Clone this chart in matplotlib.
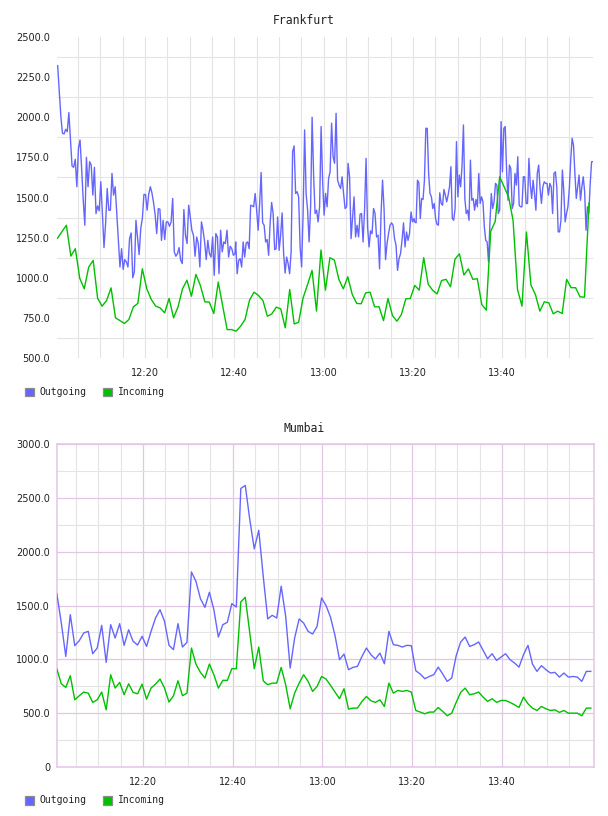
import numpy as np
import matplotlib
matplotlib.use("Agg")
import matplotlib.pyplot as plt
from matplotlib.patches import Rectangle

# ---------------- data ----------------
TIME_TICKS = ["12:20", "12:40", "13:00", "13:20", "13:40"]
SERIES_NAMES = ["Outgoing", "Incoming"]

# Frankfurt outgoing, read in three stretches (minutes after 12:00 for each stretch)
FRA_OUT_SPANS = [(0.45, 40.15), (40.30, 80.23), (80.38, 120.3)]
FRA_OUT_A = [2321, 2160, 2004, 1900, 1896, 1925, 1910, 2029, 1858, 1696, 1688, 1738, 1567,
             1806, 1858, 1681, 1483, 1327, 1750, 1567, 1723, 1702, 1515, 1688, 1400, 1448,
             1417, 1598, 1400, 1188, 1338, 1556, 1421, 1421, 1650, 1515, 1567, 1400, 1238,
             1067, 1181, 1052, 1113, 1098, 1067, 1244, 1279, 1000, 1036, 1358, 1254, 1144,
             1306, 1369, 1519, 1519, 1421, 1521, 1567, 1529, 1469, 1394, 1275, 1431, 1427,
             1233, 1358, 1238, 1348, 1348, 1321, 1348, 1494, 1161, 1134, 1150, 1188, 1109,
             1088, 1425, 1265, 1213, 1452, 1379, 1296, 1265, 1134, 1254, 1213, 1067, 1348,
             1296, 1223, 1113, 1233, 1150, 1129, 1254, 1015, 1275, 1254, 1025, 1296, 1161,
             1223, 1213, 1296, 1129, 1196, 1181, 1140, 1150]
FRA_OUT_B = [1223, 1025, 1108, 1119, 1067, 1223, 1129, 1217, 1223, 1181, 1452, 1448, 1442,
             1525, 1421, 1296, 1463, 1656, 1342, 1327, 1223, 1238, 1140, 1342, 1469, 1400,
             1175, 1181, 1379, 1171, 1265, 1404, 1150, 1029, 1129, 1088, 1025, 1161, 1786,
             1821, 1525, 1536, 1504, 1192, 1067, 1400, 1921, 1525, 1421, 1223, 1442, 2000,
             1640, 1400, 1421, 1348, 1442, 1942, 1608, 1390, 1525, 1442, 1619, 1660, 1963,
             1754, 1713, 2025, 1608, 1577, 1556, 1629, 1525, 1431, 1442, 1713, 1629, 1244,
             1379, 1504, 1254, 1327, 1254, 1396, 1400, 1223, 1421, 1744, 1317, 1192, 1292,
             1275, 1431, 1400, 1254, 1265, 1056, 1400, 1608, 1431, 1113, 1213, 1275, 1327,
             1342, 1327, 1244, 1202, 1046, 1119, 1150, 1233, 1342, 1192, 1285, 1233, 1275,
             1410, 1348, 1369]
FRA_OUT_C = [1348, 1342, 1608, 1592, 1369, 1494, 1488, 1608, 1931, 1931, 1650, 1525, 1504,
             1431, 1463, 1369, 1333, 1327, 1529, 1463, 1452, 1550, 1515, 1473, 1515, 1567,
             1692, 1369, 1358, 1431, 1848, 1504, 1640, 1567, 1702, 1952, 1494, 1400, 1421,
             1358, 1733, 1483, 1494, 1421, 1488, 1442, 1650, 1463, 1504, 1473, 1317, 1233,
             1223, 1098, 1338, 1525, 1431, 1473, 1588, 1577, 1400, 1421, 1973, 1660, 1931,
             1942, 1660, 1483, 1702, 1681, 1431, 1463, 1650, 1577, 1754, 1452, 1442, 1442,
             1629, 1629, 1463, 1463, 1744, 1577, 1494, 1608, 1525, 1421, 1650, 1702, 1556,
             1463, 1567, 1598, 1588, 1588, 1515, 1588, 1567, 1400, 1650, 1660, 1567, 1286,
             1286, 1358, 1671, 1546, 1348, 1400, 1442, 1556, 1733, 1869, 1827, 1650, 1494,
             1567, 1640, 1483, 1567, 1629, 1536, 1296, 1442, 1400, 1588, 1723, 1723]

# Frankfurt incoming, one value per minute from FRA_IN_START (minutes after 12:00)
FRA_IN_START = 0.4
FRA_IN = [1246, 1287, 1327, 1135, 1181, 996, 931, 1067, 1108, 871,
          823, 858, 937, 750, 733, 715, 740, 819, 840, 1056,
          931, 865, 823, 812, 781, 871, 750, 819, 931, 985,
          885, 1021, 952, 850, 848, 777, 973, 823, 677, 677,
          667, 698, 740, 860, 910, 890, 858, 760, 775, 817,
          806, 688, 927, 712, 723, 875, 958, 1046, 792, 1173,
          923, 1125, 1110, 990, 931, 1006, 896, 840, 838, 906,
          910, 819, 819, 733, 871, 765, 729, 771, 869, 871,
          952, 923, 1125, 960, 922, 899, 983, 990, 944, 1116,
          1149, 1017, 1055, 990, 994, 833, 798, 1290, 1350, 1629,
          1567, 1504, 1358, 927, 823, 1285, 955, 896, 792, 850,
          844, 775, 792, 777, 990, 938, 938, 881, 879, 1465]

# Mumbai, one value per minute from MUM_START (minutes after 12:00)
MUM_START = 0.8
MUM_OUT = [1610, 1337, 1027, 1415, 1127, 1173, 1245, 1260, 1052, 1105,
           1316, 972, 1322, 1198, 1331, 1130, 1275, 1167, 1133, 1214,
           1120, 1260, 1384, 1461, 1353, 1130, 1090, 1331, 1114, 1158,
           1812, 1725, 1564, 1483, 1623, 1461, 1207, 1322, 1344, 1517,
           1486, 2587, 2615, 2298, 2026, 2199, 1771, 1375, 1409, 1384,
           1679, 1400, 919, 1198, 1375, 1337, 1260, 1235, 1306, 1570,
           1499, 1390, 1220, 997, 1049, 904, 925, 935, 1027, 1105,
           1043, 1003, 1058, 959, 1260, 1136, 1130, 1114, 1130, 1127,
           894, 863, 820, 841, 857, 928, 863, 795, 826, 1034,
           1161, 1207, 1120, 1136, 1161, 1083, 1006, 1052, 990, 1021,
           1052, 997, 966, 928, 1043, 1130, 956, 888, 941, 904,
           873, 879, 835, 873, 835, 841, 835, 795, 888, 888]
MUM_IN = [910, 773, 739, 848, 624, 662, 696, 686, 600, 624,
          696, 531, 857, 733, 786, 671, 773, 693, 680, 770,
          630, 733, 770, 817, 733, 603, 662, 801, 662, 686,
          1105, 956, 879, 826, 956, 857, 733, 805, 805, 913,
          913, 1533, 1576, 1245, 913, 1114, 801, 764, 779, 779,
          925, 764, 541, 686, 779, 857, 795, 702, 748, 841,
          817, 758, 696, 634, 727, 538, 547, 547, 609, 655,
          615, 600, 624, 562, 779, 686, 711, 702, 711, 696,
          525, 510, 494, 510, 510, 553, 516, 476, 500, 600,
          693, 733, 671, 680, 696, 649, 609, 634, 600, 618,
          618, 600, 578, 553, 649, 587, 547, 525, 562, 541,
          525, 531, 507, 525, 500, 500, 500, 476, 547, 547]

FRA_YTICKS = [500, 750, 1000, 1250, 1500, 1750, 2000, 2250, 2500]
MUM_YTICKS = [0, 500, 1000, 1500, 2000, 2500, 3000]

# ---------------- style ----------------
BLUE = "#6666ff"
GREEN = "#00c000"
GRID = "#e4e4e4"
PINK = "#e2c6e6"
TXT = "#222222"
W, H = 608, 816

fig = plt.figure(figsize=(W / 100, H / 100), dpi=100)


def axes_px(x0, y0, x1, y1):
    return fig.add_axes([x0 / W, 1 - y1 / H, (x1 - x0) / W, (y1 - y0) / H])


def minutes(label):
    h, m = label.split(":")
    return int(h) * 60 + int(m) - 720


tick_pos = [minutes(t) for t in TIME_TICKS]
minor_x = np.arange(5, 120, 5)

# ---------------- Frankfurt ----------------
ax1 = axes_px(57, 37, 593, 358)
fra_out_t = np.concatenate([np.linspace(a, b, len(s)) for (a, b), s in
                            zip(FRA_OUT_SPANS, [FRA_OUT_A, FRA_OUT_B, FRA_OUT_C])])
fra_out_v = np.concatenate([FRA_OUT_A, FRA_OUT_B, FRA_OUT_C])
fra_in_t = FRA_IN_START + np.arange(len(FRA_IN))
ax1.plot(fra_out_t, fra_out_v, color=BLUE, lw=1.0, zorder=3)
ax1.plot(fra_in_t, FRA_IN, color=GREEN, lw=1.0, zorder=3)
ax1.set_xlim(0.3, 120.3)
ax1.set_ylim(500, 2500)
ax1.set_xticks(tick_pos)
ax1.set_xticklabels(TIME_TICKS)
ax1.set_xticks(minor_x, minor=True)
ax1.set_yticks(FRA_YTICKS)
ax1.set_yticklabels([f"{v:.1f}" for v in FRA_YTICKS])
ax1.set_yticks([(a + b) / 2 for a, b in zip(FRA_YTICKS[:-1], FRA_YTICKS[1:])], minor=True)
ax1.grid(axis="x", which="both", color=GRID, lw=0.8)
ax1.grid(axis="y", which="minor", color=GRID, lw=0.8)
ax1.set_axisbelow(True)
for s in ax1.spines.values():
    s.set_visible(False)

# ---------------- Mumbai ----------------
ax2 = axes_px(57, 444, 593.5, 767)
ax2.plot(MUM_START + np.arange(len(MUM_OUT)), MUM_OUT, color=BLUE, lw=1.0, zorder=3)
ax2.plot(MUM_START + np.arange(len(MUM_IN)), MUM_IN, color=GREEN, lw=1.0, zorder=3)
ax2.set_xlim(0.84, 120.4)
ax2.set_ylim(0, 3000)
ax2.set_xticks(tick_pos)
ax2.set_xticklabels(TIME_TICKS)
ax2.set_xticks(minor_x, minor=True)
ax2.set_yticks(MUM_YTICKS)
ax2.set_yticklabels(["0" if v == 0 else f"{v:.1f}" for v in MUM_YTICKS])
ax2.set_yticks([(a + b) / 2 for a, b in zip(MUM_YTICKS[:-1], MUM_YTICKS[1:])], minor=True)
ax2.grid(axis="both", which="minor", color=GRID, lw=0.8)
ax2.grid(axis="both", which="major", color=PINK, lw=0.9)
ax2.set_axisbelow(True)
for s in ax2.spines.values():
    s.set_color(PINK)
    s.set_linewidth(1.1)

for ax in (ax1, ax2):
    ax.tick_params(which="both", length=0)
    ax.tick_params(axis="y", pad=5, labelsize=7, labelcolor=TXT)
    ax.tick_params(axis="x", pad=7, labelsize=7, labelcolor=TXT)

# ---------------- titles ----------------
fig.text(304 / W, 1 - 20.5 / H, "Frankfurt", ha="center", va="center",
         family="DejaVu Sans Mono", size=8.3, color=TXT)
fig.text(304 / W, 1 - 429 / H, "Mumbai", ha="center", va="center",
         family="DejaVu Sans Mono", size=8.3, color=TXT)


# ---------------- legends ----------------
def legend(ycenter):
    for (px, tx), name, col in zip([(25, 39), (103, 118)], SERIES_NAMES, [BLUE, GREEN]):
        fig.add_artist(Rectangle((px / W, 1 - (ycenter + 4.5) / H), 8.5 / W, 9 / H,
                                 transform=fig.transFigure, facecolor=col,
                                 edgecolor="#8c8c8c", lw=0.9))
        fig.text(tx / W, 1 - ycenter / H, name, ha="left", va="center",
                 family="DejaVu Sans Mono", size=7, color=TXT)


legend(392)
legend(800)

fig.savefig("out.png", dpi=100)
